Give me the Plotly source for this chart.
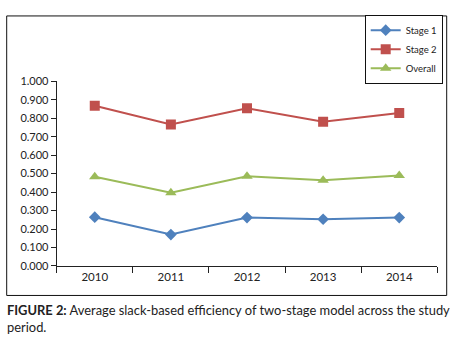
import plotly.graph_objects as go

years = ["2010", "2011", "2012", "2013", "2014"]
stage1 = [0.264, 0.170, 0.262, 0.253, 0.262]
stage2 = [0.868, 0.766, 0.854, 0.781, 0.828]
overall = [0.483, 0.396, 0.486, 0.464, 0.490]
y_ticks = [0.0, 0.1, 0.2, 0.3, 0.4, 0.5, 0.6, 0.7, 0.8, 0.9, 1.0]

W, H = 454, 338
FONT = "Lato"

fig = go.Figure()
fig.add_trace(go.Scatter(x=years, y=stage1, name="Stage 1", mode="lines+markers",
                         line=dict(color="#4F81BD", width=2),
                         marker=dict(symbol="diamond", size=9, color="#4F81BD")))
fig.add_trace(go.Scatter(x=years, y=stage2, name="Stage 2", mode="lines+markers",
                         line=dict(color="#C0504D", width=2),
                         marker=dict(symbol="square", size=10, color="#C0504D")))
fig.add_trace(go.Scatter(x=years, y=overall, name="Overall", mode="lines+markers",
                         line=dict(color="#9BBB59", width=2),
                         marker=dict(symbol="triangle-up", size=10, color="#9BBB59")))

fig.update_layout(
    width=W, height=H,
    margin=dict(l=0, r=0, t=0, b=0),
    paper_bgcolor="white", plot_bgcolor="white",
    font=dict(family=FONT, size=10, color="#222222"),
    xaxis=dict(domain=[56.7 / W, 437.3 / W], type="category", range=[-0.5, 4.5],
               tickson="boundaries", ticks="outside", ticklen=6, tickcolor="#222",
               showline=True, linecolor="#222", linewidth=1, showgrid=False,
               tickfont=dict(size=11.5)),
    yaxis=dict(domain=[1 - 269.3 / H, 1 - 77.3 / H], range=[0, 1.0],
               tickvals=y_ticks, tickformat=".3f", ticks="outside", ticklen=5,
               tickcolor="#222", showline=True, linecolor="#222", linewidth=1,
               showgrid=False, zeroline=False, tickfont=dict(size=11)),
    legend=dict(x=442.7 / W, y=1 - 8 / H, xanchor="right", yanchor="top",
                bordercolor="#111", borderwidth=1, bgcolor="white",
                font=dict(size=9.5), itemwidth=30, tracegroupgap=0),
    shapes=[dict(type="rect", xref="paper", yref="paper",
                 x0=6.7 / W, x1=446.7 / W, y0=1 - 300 / H, y1=1 - 9.3 / H,
                 line=dict(color="#111", width=1))],
    annotations=[dict(xref="paper", yref="paper", x=5 / W, y=1 - 305 / H,
                      xanchor="left", yanchor="top", align="left", showarrow=False,
                      text="<b>FIGURE 2:</b> Average slack-based efficiency of two-stage model across the study<br>period.",
                      font=dict(family=FONT, size=12.9, color="#222"))],
)

fig.write_html("out.html", config={"displayModeBar": False},
               post_script="document.body.style.margin='0';")
